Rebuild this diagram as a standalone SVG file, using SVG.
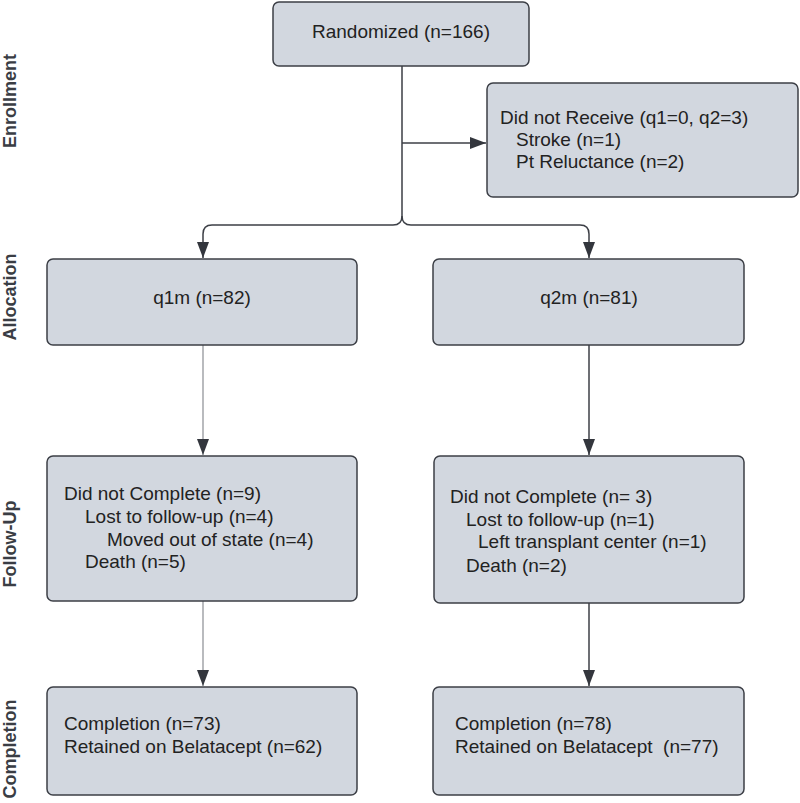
<svg xmlns="http://www.w3.org/2000/svg" width="800" height="803" viewBox="0 0 800 803">
<style>
.box{fill:#d2d7df;stroke:#3c3f46;stroke-width:1.5}
.t{font-family:"Liberation Sans",Arial,sans-serif;font-size:19px;fill:#222;white-space:pre}
.side{font-family:"Liberation Sans",Arial,sans-serif;font-size:18px;font-weight:bold;fill:#3a3d44}
.c{fill:none;stroke:#3c3f46;stroke-width:1.5}
.cl{fill:none;stroke:#8a8d93;stroke-width:1.2}
</style>
<defs>
<marker id="ah" markerWidth="16" markerHeight="12" refX="16" refY="6" orient="auto" markerUnits="userSpaceOnUse" viewBox="0 0 16 12">
<path d="M0,0 L16,6 L0,12 Z" fill="#33363d"/>
</marker>
</defs>

<g id="side-labels">
<text class="side" transform="translate(16,101) rotate(-90)" text-anchor="middle">Enrollment</text>
<text class="side" transform="translate(16,297) rotate(-90)" text-anchor="middle">Allocation</text>
<text class="side" transform="translate(16,544) rotate(-90)" text-anchor="middle">Follow-Up</text>
<text class="side" transform="translate(16,749) rotate(-90)" text-anchor="middle">Completion</text>
</g>

<g id="connectors">
<path class="c" d="M402,66 V216 Q402,225 393,225 H212 Q203,225 203,234 V258" marker-end="url(#ah)"/>
<path class="c" d="M402,216 Q402,225 411,225 H580 Q589,225 589,234 V258" marker-end="url(#ah)"/>
<path class="c" d="M402,143 H486" marker-end="url(#ah)"/>
<path class="cl" d="M203,345 V455" marker-end="url(#ah)"/>
<path class="cl" d="M203,601 V686" marker-end="url(#ah)"/>
<path class="c" d="M589,345 V455" marker-end="url(#ah)"/>
<path class="c" d="M589,603 V686" marker-end="url(#ah)"/>
</g>

<g id="randomized">
<rect class="box" x="273" y="2" width="256" height="64" rx="6"/>
<text class="t" x="401" y="38" text-anchor="middle">Randomized (n=166)</text>
</g>

<g id="did-not-receive">
<rect class="box" x="487" y="83" width="311" height="114" rx="6"/>
<text class="t" x="500" y="124">Did not Receive (q1=0, q2=3)</text>
<text class="t" x="516" y="146">Stroke (n=1)</text>
<text class="t" x="516" y="168">Pt Reluctance (n=2)</text>
</g>

<g id="q1m">
<rect class="box" x="47" y="259" width="310" height="86" rx="6"/>
<text class="t" x="202" y="304" text-anchor="middle">q1m (n=82)</text>
</g>

<g id="q2m">
<rect class="box" x="433" y="259" width="311" height="86" rx="6"/>
<text class="t" x="589" y="304" text-anchor="middle">q2m (n=81)</text>
</g>

<g id="followup-q1">
<rect class="box" x="47" y="456" width="310" height="145" rx="6"/>
<text class="t" x="64" y="500">Did not Complete (n=9)</text>
<text class="t" x="85" y="523">Lost to follow-up (n=4)</text>
<text class="t" x="107" y="546">Moved out of state (n=4)</text>
<text class="t" x="85" y="568">Death (n=5)</text>
</g>

<g id="followup-q2">
<rect class="box" x="434" y="456" width="310" height="147" rx="6"/>
<text class="t" x="450" y="503">Did not Complete (n= 3)</text>
<text class="t" x="466" y="526">Lost to follow-up (n=1)</text>
<text class="t" x="478" y="548">Left transplant center (n=1)</text>
<text class="t" x="466" y="572">Death (n=2)</text>
</g>

<g id="completion-q1">
<rect class="box" x="47" y="687" width="310" height="108" rx="6"/>
<text class="t" x="64" y="730">Completion (n=73)</text>
<text class="t" x="64" y="753">Retained on Belatacept (n=62)</text>
</g>

<g id="completion-q2">
<rect class="box" x="433" y="687" width="311" height="108" rx="6"/>
<text class="t" x="455" y="730">Completion (n=78)</text>
<text class="t" x="455" y="753">Retained on Belatacept  (n=77)</text>
</g>
</svg>
